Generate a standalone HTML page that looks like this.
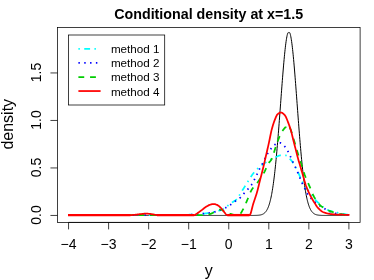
<!DOCTYPE html>
<html><head><meta charset="utf-8"><title>Conditional density</title>
<style>
html,body{margin:0;padding:0;background:#fff;}
svg{display:block;will-change:transform;}
text{font-family:"Liberation Sans",sans-serif;fill:#000;}
</style></head><body>
<svg width="374" height="280" viewBox="0 0 374 280">
<rect width="374" height="280" fill="#fff"/>
<polyline fill="none" stroke="#000" stroke-width="1.0" stroke-linejoin="round" points="68.60,215.45 68.85,215.45 69.10,215.45 69.35,215.45 69.60,215.45 69.85,215.45 70.10,215.45 70.35,215.45 70.60,215.45 70.85,215.45 71.10,215.45 71.35,215.45 71.60,215.45 71.85,215.45 72.10,215.45 72.35,215.45 72.60,215.45 72.85,215.45 73.10,215.45 73.35,215.45 73.60,215.45 73.85,215.45 74.10,215.45 74.35,215.45 74.60,215.45 74.85,215.45 75.10,215.45 75.35,215.45 75.60,215.45 75.85,215.45 76.10,215.45 76.35,215.45 76.60,215.45 76.85,215.45 77.10,215.45 77.35,215.45 77.60,215.45 77.85,215.45 78.10,215.45 78.35,215.45 78.60,215.45 78.85,215.45 79.10,215.45 79.35,215.45 79.60,215.45 79.85,215.45 80.10,215.45 80.35,215.45 80.60,215.45 80.85,215.45 81.10,215.45 81.35,215.45 81.60,215.45 81.85,215.45 82.10,215.45 82.35,215.45 82.60,215.45 82.85,215.45 83.10,215.45 83.35,215.45 83.60,215.45 83.85,215.45 84.10,215.45 84.35,215.45 84.60,215.45 84.85,215.45 85.10,215.45 85.35,215.45 85.60,215.45 85.85,215.45 86.10,215.45 86.35,215.45 86.60,215.45 86.85,215.45 87.10,215.45 87.35,215.45 87.60,215.45 87.85,215.45 88.10,215.45 88.35,215.45 88.60,215.45 88.85,215.45 89.10,215.45 89.35,215.45 89.60,215.45 89.85,215.45 90.10,215.45 90.35,215.45 90.60,215.45 90.85,215.45 91.10,215.45 91.35,215.45 91.60,215.45 91.85,215.45 92.10,215.45 92.35,215.45 92.60,215.45 92.85,215.45 93.10,215.45 93.35,215.45 93.60,215.45 93.85,215.45 94.10,215.45 94.35,215.45 94.60,215.45 94.85,215.45 95.10,215.45 95.35,215.45 95.60,215.45 95.85,215.45 96.10,215.45 96.35,215.45 96.60,215.45 96.85,215.45 97.10,215.45 97.35,215.45 97.60,215.45 97.85,215.45 98.10,215.45 98.35,215.45 98.60,215.45 98.85,215.45 99.10,215.45 99.35,215.45 99.60,215.45 99.85,215.45 100.10,215.45 100.35,215.45 100.60,215.45 100.85,215.45 101.10,215.45 101.35,215.45 101.60,215.45 101.85,215.45 102.10,215.45 102.35,215.45 102.60,215.45 102.85,215.45 103.10,215.45 103.35,215.45 103.60,215.45 103.85,215.45 104.10,215.45 104.35,215.45 104.60,215.45 104.85,215.45 105.10,215.45 105.35,215.45 105.60,215.45 105.85,215.45 106.10,215.45 106.35,215.45 106.60,215.45 106.85,215.45 107.10,215.45 107.35,215.45 107.60,215.45 107.85,215.45 108.10,215.45 108.35,215.45 108.60,215.45 108.85,215.45 109.10,215.45 109.35,215.45 109.60,215.45 109.85,215.45 110.10,215.45 110.35,215.45 110.60,215.45 110.85,215.45 111.10,215.45 111.35,215.45 111.60,215.45 111.85,215.45 112.10,215.45 112.35,215.45 112.60,215.45 112.85,215.45 113.10,215.45 113.35,215.45 113.60,215.45 113.85,215.45 114.10,215.45 114.35,215.45 114.60,215.45 114.85,215.45 115.10,215.45 115.35,215.45 115.60,215.45 115.85,215.45 116.10,215.45 116.35,215.45 116.60,215.45 116.85,215.45 117.10,215.45 117.35,215.45 117.60,215.45 117.85,215.45 118.10,215.45 118.35,215.45 118.60,215.45 118.85,215.45 119.10,215.45 119.35,215.45 119.60,215.45 119.85,215.45 120.10,215.45 120.35,215.45 120.60,215.45 120.85,215.45 121.10,215.45 121.35,215.45 121.60,215.45 121.85,215.45 122.10,215.45 122.35,215.45 122.60,215.45 122.85,215.45 123.10,215.45 123.35,215.45 123.60,215.45 123.85,215.45 124.10,215.45 124.35,215.45 124.60,215.45 124.85,215.45 125.10,215.45 125.35,215.45 125.60,215.45 125.85,215.45 126.10,215.45 126.35,215.45 126.60,215.45 126.85,215.45 127.10,215.45 127.35,215.45 127.60,215.45 127.85,215.45 128.10,215.45 128.35,215.45 128.60,215.45 128.85,215.45 129.10,215.45 129.35,215.45 129.60,215.45 129.85,215.45 130.10,215.45 130.35,215.45 130.60,215.45 130.85,215.45 131.10,215.45 131.35,215.45 131.60,215.45 131.85,215.45 132.10,215.45 132.35,215.45 132.60,215.45 132.85,215.45 133.10,215.45 133.35,215.45 133.60,215.45 133.85,215.45 134.10,215.45 134.35,215.45 134.60,215.45 134.85,215.45 135.10,215.45 135.35,215.45 135.60,215.45 135.85,215.45 136.10,215.45 136.35,215.45 136.60,215.45 136.85,215.45 137.10,215.45 137.35,215.45 137.60,215.45 137.85,215.45 138.10,215.45 138.35,215.45 138.60,215.45 138.85,215.45 139.10,215.45 139.35,215.45 139.60,215.45 139.85,215.45 140.10,215.45 140.35,215.45 140.60,215.45 140.85,215.45 141.10,215.45 141.35,215.45 141.60,215.45 141.85,215.45 142.10,215.45 142.35,215.45 142.60,215.45 142.85,215.45 143.10,215.45 143.35,215.45 143.60,215.45 143.85,215.45 144.10,215.45 144.35,215.45 144.60,215.45 144.85,215.45 145.10,215.45 145.35,215.45 145.60,215.45 145.85,215.45 146.10,215.45 146.35,215.45 146.60,215.45 146.85,215.45 147.10,215.45 147.35,215.45 147.60,215.45 147.85,215.45 148.10,215.45 148.35,215.45 148.60,215.45 148.85,215.45 149.10,215.45 149.35,215.45 149.60,215.45 149.85,215.45 150.10,215.45 150.35,215.45 150.60,215.45 150.85,215.45 151.10,215.45 151.35,215.45 151.60,215.45 151.85,215.45 152.10,215.45 152.35,215.45 152.60,215.45 152.85,215.45 153.10,215.45 153.35,215.45 153.60,215.45 153.85,215.45 154.10,215.45 154.35,215.45 154.60,215.45 154.85,215.45 155.10,215.45 155.35,215.45 155.60,215.45 155.85,215.45 156.10,215.45 156.35,215.45 156.60,215.45 156.85,215.45 157.10,215.45 157.35,215.45 157.60,215.45 157.85,215.45 158.10,215.45 158.35,215.45 158.60,215.45 158.85,215.45 159.10,215.45 159.35,215.45 159.60,215.45 159.85,215.45 160.10,215.45 160.35,215.45 160.60,215.45 160.85,215.45 161.10,215.45 161.35,215.45 161.60,215.45 161.85,215.45 162.10,215.45 162.35,215.45 162.60,215.45 162.85,215.45 163.10,215.45 163.35,215.45 163.60,215.45 163.85,215.45 164.10,215.45 164.35,215.45 164.60,215.45 164.85,215.45 165.10,215.45 165.35,215.45 165.60,215.45 165.85,215.45 166.10,215.45 166.35,215.45 166.60,215.45 166.85,215.45 167.10,215.45 167.35,215.45 167.60,215.45 167.85,215.45 168.10,215.45 168.35,215.45 168.60,215.45 168.85,215.45 169.10,215.45 169.35,215.45 169.60,215.45 169.85,215.45 170.10,215.45 170.35,215.45 170.60,215.45 170.85,215.45 171.10,215.45 171.35,215.45 171.60,215.45 171.85,215.45 172.10,215.45 172.35,215.45 172.60,215.45 172.85,215.45 173.10,215.45 173.35,215.45 173.60,215.45 173.85,215.45 174.10,215.45 174.35,215.45 174.60,215.45 174.85,215.45 175.10,215.45 175.35,215.45 175.60,215.45 175.85,215.45 176.10,215.45 176.35,215.45 176.60,215.45 176.85,215.45 177.10,215.45 177.35,215.45 177.60,215.45 177.85,215.45 178.10,215.45 178.35,215.45 178.60,215.45 178.85,215.45 179.10,215.45 179.35,215.45 179.60,215.45 179.85,215.45 180.10,215.45 180.35,215.45 180.60,215.45 180.85,215.45 181.10,215.45 181.35,215.45 181.60,215.45 181.85,215.45 182.10,215.45 182.35,215.45 182.60,215.45 182.85,215.45 183.10,215.45 183.35,215.45 183.60,215.45 183.85,215.45 184.10,215.45 184.35,215.45 184.60,215.45 184.85,215.45 185.10,215.45 185.35,215.45 185.60,215.45 185.85,215.45 186.10,215.45 186.35,215.45 186.60,215.45 186.85,215.45 187.10,215.45 187.35,215.45 187.60,215.45 187.85,215.45 188.10,215.45 188.35,215.45 188.60,215.45 188.85,215.45 189.10,215.45 189.35,215.45 189.60,215.45 189.85,215.45 190.10,215.45 190.35,215.45 190.60,215.45 190.85,215.45 191.10,215.45 191.35,215.45 191.60,215.45 191.85,215.45 192.10,215.45 192.35,215.45 192.60,215.45 192.85,215.45 193.10,215.45 193.35,215.45 193.60,215.45 193.85,215.45 194.10,215.45 194.35,215.45 194.60,215.45 194.85,215.45 195.10,215.45 195.35,215.45 195.60,215.45 195.85,215.45 196.10,215.45 196.35,215.45 196.60,215.45 196.85,215.45 197.10,215.45 197.35,215.45 197.60,215.45 197.85,215.45 198.10,215.45 198.35,215.45 198.60,215.45 198.85,215.45 199.10,215.45 199.35,215.45 199.60,215.45 199.85,215.45 200.10,215.45 200.35,215.45 200.60,215.45 200.85,215.45 201.10,215.45 201.35,215.45 201.60,215.45 201.85,215.45 202.10,215.45 202.35,215.45 202.60,215.45 202.85,215.45 203.10,215.45 203.35,215.45 203.60,215.45 203.85,215.45 204.10,215.45 204.35,215.45 204.60,215.45 204.85,215.45 205.10,215.45 205.35,215.45 205.60,215.45 205.85,215.45 206.10,215.45 206.35,215.45 206.60,215.45 206.85,215.45 207.10,215.45 207.35,215.45 207.60,215.45 207.85,215.45 208.10,215.45 208.35,215.45 208.60,215.45 208.85,215.45 209.10,215.45 209.35,215.45 209.60,215.45 209.85,215.45 210.10,215.45 210.35,215.45 210.60,215.45 210.85,215.45 211.10,215.45 211.35,215.45 211.60,215.45 211.85,215.45 212.10,215.45 212.35,215.45 212.60,215.45 212.85,215.45 213.10,215.45 213.35,215.45 213.60,215.45 213.85,215.45 214.10,215.45 214.35,215.45 214.60,215.45 214.85,215.45 215.10,215.45 215.35,215.45 215.60,215.45 215.85,215.45 216.10,215.45 216.35,215.45 216.60,215.45 216.85,215.45 217.10,215.45 217.35,215.45 217.60,215.45 217.85,215.45 218.10,215.45 218.35,215.45 218.60,215.45 218.85,215.45 219.10,215.45 219.35,215.45 219.60,215.45 219.85,215.45 220.10,215.45 220.35,215.45 220.60,215.45 220.85,215.45 221.10,215.45 221.35,215.45 221.60,215.45 221.85,215.45 222.10,215.45 222.35,215.45 222.60,215.45 222.85,215.45 223.10,215.45 223.35,215.45 223.60,215.45 223.85,215.45 224.10,215.45 224.35,215.45 224.60,215.45 224.85,215.45 225.10,215.45 225.35,215.45 225.60,215.45 225.85,215.45 226.10,215.45 226.35,215.45 226.60,215.45 226.85,215.45 227.10,215.45 227.35,215.45 227.60,215.45 227.85,215.45 228.10,215.45 228.35,215.45 228.60,215.45 228.85,215.45 229.10,215.45 229.35,215.45 229.60,215.45 229.85,215.45 230.10,215.45 230.35,215.45 230.60,215.45 230.85,215.45 231.10,215.45 231.35,215.45 231.60,215.45 231.85,215.45 232.10,215.45 232.35,215.45 232.60,215.45 232.85,215.45 233.10,215.45 233.35,215.45 233.60,215.45 233.85,215.45 234.10,215.45 234.35,215.45 234.60,215.45 234.85,215.45 235.10,215.45 235.35,215.45 235.60,215.45 235.85,215.45 236.10,215.45 236.35,215.45 236.60,215.45 236.85,215.45 237.10,215.45 237.35,215.45 237.60,215.45 237.85,215.45 238.10,215.45 238.35,215.45 238.60,215.45 238.85,215.45 239.10,215.45 239.35,215.45 239.60,215.45 239.85,215.45 240.10,215.45 240.35,215.45 240.60,215.45 240.85,215.45 241.10,215.45 241.35,215.45 241.60,215.45 241.85,215.45 242.10,215.45 242.35,215.45 242.60,215.45 242.85,215.45 243.10,215.45 243.35,215.45 243.60,215.45 243.85,215.45 244.10,215.45 244.35,215.45 244.60,215.45 244.85,215.45 245.10,215.45 245.35,215.45 245.60,215.45 245.85,215.45 246.10,215.45 246.35,215.45 246.60,215.45 246.85,215.45 247.10,215.45 247.35,215.45 247.60,215.45 247.85,215.45 248.10,215.45 248.35,215.45 248.60,215.45 248.85,215.45 249.10,215.45 249.35,215.45 249.60,215.45 249.85,215.45 250.10,215.45 250.35,215.45 250.60,215.45 250.85,215.45 251.10,215.44 251.35,215.44 251.60,215.44 251.85,215.44 252.10,215.44 252.35,215.44 252.60,215.44 252.85,215.44 253.10,215.43 253.35,215.43 253.60,215.43 253.85,215.43 254.10,215.42 254.35,215.42 254.60,215.42 254.85,215.41 255.10,215.41 255.35,215.40 255.60,215.39 255.85,215.39 256.10,215.38 256.35,215.37 256.60,215.36 256.85,215.35 257.10,215.33 257.35,215.32 257.60,215.30 257.85,215.29 258.10,215.27 258.35,215.25 258.60,215.22 258.85,215.19 259.10,215.17 259.35,215.13 259.60,215.10 259.85,215.06 260.10,215.01 260.35,214.96 260.60,214.91 260.85,214.85 261.10,214.79 261.35,214.72 261.60,214.64 261.85,214.56 262.10,214.47 262.35,214.37 262.60,214.26 262.85,214.14 263.10,214.01 263.35,213.86 263.60,213.71 263.85,213.54 264.10,213.36 264.35,213.16 264.60,212.95 264.85,212.72 265.10,212.47 265.35,212.20 265.60,211.91 265.85,211.60 266.10,211.27 266.35,210.91 266.60,210.52 266.85,210.10 267.10,209.66 267.35,209.18 267.60,208.67 267.85,208.13 268.10,207.55 268.35,206.93 268.60,206.27 268.85,205.57 269.10,204.83 269.35,204.04 269.60,203.20 269.85,202.31 270.10,201.37 270.35,200.38 270.60,199.34 270.85,198.23 271.10,197.07 271.35,195.85 271.60,194.56 271.85,193.21 272.10,191.80 272.35,190.31 272.60,188.76 272.85,187.14 273.10,185.45 273.35,183.69 273.60,181.85 273.85,179.94 274.10,177.96 274.35,175.90 274.60,173.77 274.85,171.56 275.10,169.27 275.35,166.91 275.60,164.48 275.85,161.98 276.10,159.40 276.35,156.75 276.60,154.04 276.85,151.26 277.10,148.41 277.35,145.50 277.60,142.53 277.85,139.50 278.10,136.42 278.35,133.29 278.60,130.12 278.85,126.90 279.10,123.64 279.35,120.36 279.60,117.04 279.85,113.70 280.10,110.35 280.35,106.98 280.60,103.61 280.85,100.24 281.10,96.87 281.35,93.52 281.60,90.19 281.85,86.88 282.10,83.61 282.35,80.38 282.60,77.20 282.85,74.07 283.10,71.00 283.35,68.00 283.60,65.07 283.85,62.23 284.10,59.47 284.35,56.81 284.60,54.26 284.85,51.81 285.10,49.47 285.35,47.26 285.60,45.17 285.85,43.21 286.10,41.39 286.35,39.72 286.60,38.18 286.85,36.80 287.10,35.57 287.35,34.50 287.60,33.59 287.85,32.84 288.10,32.60 288.35,32.60 288.60,32.60 288.85,32.60 289.10,32.60 289.35,32.60 289.60,32.60 289.85,32.84 290.10,33.59 290.35,34.50 290.60,35.57 290.85,36.80 291.10,38.18 291.35,39.72 291.60,41.39 291.85,43.21 292.10,45.17 292.35,47.26 292.60,49.47 292.85,51.81 293.10,54.26 293.35,56.81 293.60,59.47 293.85,62.23 294.10,65.07 294.35,68.00 294.60,71.00 294.85,74.07 295.10,77.20 295.35,80.38 295.60,83.61 295.85,86.88 296.10,90.19 296.35,93.52 296.60,96.87 296.85,100.24 297.10,103.61 297.35,106.98 297.60,110.35 297.85,113.70 298.10,117.04 298.35,120.36 298.60,123.64 298.85,126.90 299.10,130.12 299.35,133.29 299.60,136.42 299.85,139.50 300.10,142.53 300.35,145.50 300.60,148.41 300.85,151.26 301.10,154.04 301.35,156.75 301.60,159.40 301.85,161.98 302.10,164.48 302.35,166.91 302.60,169.27 302.85,171.56 303.10,173.77 303.35,175.90 303.60,177.96 303.85,179.94 304.10,181.85 304.35,183.69 304.60,185.45 304.85,187.14 305.10,188.76 305.35,190.31 305.60,191.80 305.85,193.21 306.10,194.56 306.35,195.85 306.60,197.07 306.85,198.23 307.10,199.34 307.35,200.38 307.60,201.37 307.85,202.31 308.10,203.20 308.35,204.04 308.60,204.83 308.85,205.57 309.10,206.27 309.35,206.93 309.60,207.55 309.85,208.13 310.10,208.67 310.35,209.18 310.60,209.66 310.85,210.10 311.10,210.52 311.35,210.91 311.60,211.27 311.85,211.60 312.10,211.91 312.35,212.20 312.60,212.47 312.85,212.72 313.10,212.95 313.35,213.16 313.60,213.36 313.85,213.54 314.10,213.71 314.35,213.86 314.60,214.01 314.85,214.14 315.10,214.26 315.35,214.37 315.60,214.47 315.85,214.56 316.10,214.64 316.35,214.72 316.60,214.79 316.85,214.85 317.10,214.91 317.35,214.96 317.60,215.01 317.85,215.06 318.10,215.10 318.35,215.13 318.60,215.17 318.85,215.19 319.10,215.22 319.35,215.25 319.60,215.27 319.85,215.29 320.10,215.30 320.35,215.32 320.60,215.33 320.85,215.35 321.10,215.36 321.35,215.37 321.60,215.38 321.85,215.39 322.10,215.39 322.35,215.40 322.60,215.41 322.85,215.41 323.10,215.42 323.35,215.42 323.60,215.42 323.85,215.43 324.10,215.43 324.35,215.43 324.60,215.43 324.85,215.44 325.10,215.44 325.35,215.44 325.60,215.44 325.85,215.44 326.10,215.44 326.35,215.44 326.60,215.44 326.85,215.45 327.10,215.45 327.35,215.45 327.60,215.45 327.85,215.45 328.10,215.45 328.35,215.45 328.60,215.45 328.85,215.45 329.10,215.45 329.35,215.45 329.60,215.45 329.85,215.45 330.10,215.45 330.35,215.45 330.60,215.45 330.85,215.45 331.10,215.45 331.35,215.45 331.60,215.45 331.85,215.45 332.10,215.45 332.35,215.45 332.60,215.45 332.85,215.45 333.10,215.45 333.35,215.45 333.60,215.45 333.85,215.45 334.10,215.45 334.35,215.45 334.60,215.45 334.85,215.45 335.10,215.45 335.35,215.45 335.60,215.45 335.85,215.45 336.10,215.45 336.35,215.45 336.60,215.45 336.85,215.45 337.10,215.45 337.35,215.45 337.60,215.45 337.85,215.45 338.10,215.45 338.35,215.45 338.60,215.45 338.85,215.45 339.10,215.45 339.35,215.45 339.60,215.45 339.85,215.45 340.10,215.45 340.35,215.45 340.60,215.45 340.85,215.45 341.10,215.45 341.35,215.45 341.60,215.45 341.85,215.45 342.10,215.45 342.35,215.45 342.60,215.45 342.85,215.45 343.10,215.45 343.35,215.45 343.60,215.45 343.85,215.45 344.10,215.45 344.35,215.45 344.60,215.45 344.85,215.45 345.10,215.45 345.35,215.45 345.60,215.45 345.85,215.45 346.10,215.45 346.35,215.45 346.60,215.45 346.85,215.45 347.10,215.45 347.35,215.45 347.60,215.45 347.85,215.45 348.10,215.45 348.35,215.45 348.60,215.45 348.85,215.45"/>
<polyline fill="none" stroke="#00FFFF" stroke-width="1.75" stroke-linejoin="round" stroke-dasharray="1.458 4.374 5.832 4.374" stroke-dashoffset="0" points="68.60,215.20 69.10,215.20 69.60,215.20 70.10,215.20 70.60,215.20 71.10,215.20 71.60,215.20 72.10,215.20 72.60,215.20 73.10,215.20 73.60,215.20 74.10,215.20 74.60,215.20 75.10,215.20 75.60,215.20 76.10,215.20 76.60,215.20 77.10,215.20 77.60,215.20 78.10,215.20 78.60,215.20 79.10,215.20 79.60,215.20 80.10,215.20 80.60,215.20 81.10,215.20 81.60,215.20 82.10,215.20 82.60,215.20 83.10,215.20 83.60,215.20 84.10,215.20 84.60,215.20 85.10,215.20 85.60,215.20 86.10,215.20 86.60,215.20 87.10,215.20 87.60,215.20 88.10,215.20 88.60,215.20 89.10,215.20 89.60,215.20 90.10,215.20 90.60,215.20 91.10,215.20 91.60,215.20 92.10,215.20 92.60,215.20 93.10,215.20 93.60,215.20 94.10,215.20 94.60,215.20 95.10,215.20 95.60,215.20 96.10,215.20 96.60,215.20 97.10,215.20 97.60,215.20 98.10,215.20 98.60,215.20 99.10,215.20 99.60,215.20 100.10,215.20 100.60,215.20 101.10,215.20 101.60,215.20 102.10,215.20 102.60,215.20 103.10,215.20 103.60,215.20 104.10,215.20 104.60,215.20 105.10,215.20 105.60,215.20 106.10,215.20 106.60,215.20 107.10,215.20 107.60,215.20 108.10,215.20 108.60,215.20 109.10,215.20 109.60,215.20 110.10,215.20 110.60,215.20 111.10,215.20 111.60,215.20 112.10,215.20 112.60,215.20 113.10,215.20 113.60,215.20 114.10,215.20 114.60,215.20 115.10,215.20 115.60,215.20 116.10,215.20 116.60,215.20 117.10,215.20 117.60,215.20 118.10,215.20 118.60,215.20 119.10,215.20 119.60,215.20 120.10,215.20 120.60,215.20 121.10,215.20 121.60,215.20 122.10,215.20 122.60,215.20 123.10,215.20 123.60,215.20 124.10,215.20 124.60,215.20 125.10,215.20 125.60,215.20 126.10,215.20 126.60,215.20 127.10,215.20 127.60,215.20 128.10,215.20 128.60,215.20 129.10,215.20 129.60,215.20 130.10,215.20 130.60,215.20 131.10,215.20 131.60,215.20 132.10,215.20 132.60,215.20 133.10,215.20 133.60,215.20 134.10,215.20 134.60,215.20 135.10,215.20 135.60,215.20 136.10,215.20 136.60,215.20 137.10,215.20 137.60,215.20 138.10,215.20 138.60,215.20 139.10,215.20 139.60,215.20 140.10,215.20 140.60,215.20 141.10,215.20 141.60,215.20 142.10,215.20 142.60,215.20 143.10,215.20 143.60,215.20 144.10,215.20 144.60,215.20 145.10,215.20 145.60,215.20 146.10,215.20 146.60,215.20 147.10,215.20 147.60,215.20 148.10,215.20 148.60,215.20 149.10,215.20 149.60,215.20 150.10,215.20 150.60,215.20 151.10,215.20 151.60,215.20 152.10,215.20 152.60,215.20 153.10,215.20 153.60,215.20 154.10,215.20 154.60,215.20 155.10,215.20 155.60,215.20 156.10,215.20 156.60,215.20 157.10,215.20 157.60,215.20 158.10,215.20 158.60,215.20 159.10,215.20 159.60,215.20 160.10,215.20 160.60,215.20 161.10,215.20 161.60,215.20 162.10,215.20 162.60,215.20 163.10,215.20 163.60,215.20 164.10,215.20 164.60,215.20 165.10,215.20 165.60,215.20 166.10,215.20 166.60,215.20 167.10,215.20 167.60,215.20 168.10,215.20 168.60,215.20 169.10,215.20 169.60,215.20 170.10,215.20 170.60,215.20 171.10,215.20 171.60,215.20 172.10,215.20 172.60,215.20 173.10,215.20 173.60,215.20 174.10,215.20 174.60,215.20 175.10,215.20 175.60,215.20 176.10,215.20 176.60,215.20 177.10,215.20 177.60,215.20 178.10,215.20 178.60,215.20 179.10,215.19 179.60,215.17 180.10,215.15 180.60,215.13 181.10,215.11 181.60,215.08 182.10,215.05 182.60,215.03 183.10,215.00 183.60,214.97 184.10,214.94 184.60,214.92 185.10,214.90 185.60,214.87 186.10,214.85 186.60,214.83 187.10,214.81 187.60,214.79 188.10,214.77 188.60,214.75 189.10,214.73 189.60,214.71 190.10,214.69 190.60,214.67 191.10,214.65 191.60,214.62 192.10,214.60 192.60,214.58 193.10,214.56 193.60,214.54 194.10,214.51 194.60,214.49 195.10,214.46 195.60,214.44 196.10,214.41 196.60,214.38 197.10,214.34 197.60,214.30 198.10,214.26 198.60,214.21 199.10,214.16 199.60,214.11 200.10,214.05 200.60,213.99 201.10,213.93 201.60,213.87 202.10,213.81 202.60,213.75 203.10,213.69 203.60,213.63 204.10,213.58 204.60,213.52 205.10,213.46 205.60,213.41 206.10,213.35 206.60,213.29 207.10,213.23 207.60,213.17 208.10,213.10 208.60,213.03 209.10,212.96 209.60,212.88 210.10,212.80 210.60,212.72 211.10,212.63 211.60,212.54 212.10,212.45 212.60,212.35 213.10,212.25 213.60,212.15 214.10,212.04 214.60,211.92 215.10,211.80 215.60,211.67 216.10,211.54 216.60,211.39 217.10,211.24 217.60,211.08 218.10,210.92 218.60,210.75 219.10,210.58 219.60,210.40 220.10,210.21 220.60,210.02 221.10,209.83 221.60,209.64 222.10,209.44 222.60,209.22 223.10,209.00 223.60,208.76 224.10,208.51 224.60,208.23 225.10,207.94 225.60,207.58 226.10,207.17 226.60,206.73 227.10,206.29 227.60,205.86 228.10,205.47 228.60,205.09 229.10,204.71 229.60,204.35 230.10,203.98 230.60,203.62 231.10,203.27 231.60,202.91 232.10,202.55 232.60,202.19 233.10,201.83 233.60,201.49 234.10,201.16 234.60,200.85 235.10,200.53 235.60,200.19 236.10,199.81 236.60,199.38 237.10,198.89 237.60,198.26 238.10,197.50 238.60,196.64 239.10,195.75 239.60,194.87 240.10,194.04 240.60,193.24 241.10,192.45 241.60,191.65 242.10,190.85 242.60,190.06 243.10,189.26 243.60,188.46 244.10,187.66 244.60,186.85 245.10,186.05 245.60,185.24 246.10,184.43 246.60,183.63 247.10,182.83 247.60,182.03 248.10,181.24 248.60,180.44 249.10,179.63 249.60,178.82 250.10,178.02 250.60,177.22 251.10,176.45 251.60,175.71 252.10,175.00 252.60,174.34 253.10,173.70 253.60,173.07 254.10,172.46 254.60,171.87 255.10,171.29 255.60,170.73 256.10,170.19 256.60,169.67 257.10,169.17 257.60,168.69 258.10,168.22 258.60,167.78 259.10,167.34 259.60,166.91 260.10,166.50 260.60,166.09 261.10,165.70 261.60,165.31 262.10,164.93 262.60,164.57 263.10,164.21 263.60,163.86 264.10,163.52 264.60,163.19 265.10,162.86 265.60,162.55 266.10,162.23 266.60,161.92 267.10,161.61 267.60,161.31 268.10,161.01 268.60,160.72 269.10,160.43 269.60,160.15 270.10,159.87 270.60,159.60 271.10,159.33 271.60,159.07 272.10,158.81 272.60,158.56 273.10,158.31 273.60,158.07 274.10,157.84 274.60,157.61 275.10,157.38 275.60,157.17 276.10,156.96 276.60,156.73 277.10,156.50 277.60,156.26 278.10,156.03 278.60,155.82 279.10,155.64 279.60,155.51 280.10,155.42 280.60,155.40 281.10,155.40 281.60,155.40 282.10,155.41 282.60,155.41 283.10,155.42 283.60,155.43 284.10,155.44 284.60,155.45 285.10,155.47 285.60,155.48 286.10,155.50 286.60,155.61 287.10,155.86 287.60,156.25 288.10,156.73 288.60,157.29 289.10,157.88 289.60,158.48 290.10,159.07 290.60,159.62 291.10,160.19 291.60,160.80 292.10,161.45 292.60,162.15 293.10,162.91 293.60,163.71 294.10,164.55 294.60,165.43 295.10,166.35 295.60,167.31 296.10,168.29 296.60,169.29 297.10,170.32 297.60,171.36 298.10,172.42 298.60,173.49 299.10,174.56 299.60,175.64 300.10,176.83 300.60,178.09 301.10,179.36 301.60,180.59 302.10,181.72 302.60,182.68 303.10,183.54 303.60,184.35 304.10,185.11 304.60,185.84 305.10,186.53 305.60,187.19 306.10,187.84 306.60,188.47 307.10,189.09 307.60,189.71 308.10,190.34 308.60,190.98 309.10,191.63 309.60,192.30 310.10,192.98 310.60,193.66 311.10,194.34 311.60,195.02 312.10,195.69 312.60,196.36 313.10,197.02 313.60,197.67 314.10,198.30 314.60,198.91 315.10,199.50 315.60,200.06 316.10,200.60 316.60,201.10 317.10,201.58 317.60,202.06 318.10,202.54 318.60,203.01 319.10,203.48 319.60,203.95 320.10,204.40 320.60,204.85 321.10,205.29 321.60,205.73 322.10,206.15 322.60,206.56 323.10,206.96 323.60,207.35 324.10,207.72 324.60,208.08 325.10,208.43 325.60,208.76 326.10,209.07 326.60,209.36 327.10,209.64 327.60,209.90 328.10,210.13 328.60,210.34 329.10,210.54 329.60,210.71 330.10,210.88 330.60,211.04 331.10,211.19 331.60,211.33 332.10,211.46 332.60,211.59 333.10,211.71 333.60,211.83 334.10,211.94 334.60,212.05 335.10,212.16 335.60,212.27 336.10,212.37 336.60,212.48 337.10,212.58 337.60,212.69 338.10,212.80 338.60,212.91 339.10,213.02 339.60,213.13 340.10,213.23 340.60,213.34 341.10,213.44 341.60,213.55 342.10,213.65 342.60,213.75 343.10,213.85 343.60,213.95 344.10,214.04 344.60,214.14 345.10,214.23 345.60,214.33 346.10,214.42 346.60,214.51 347.10,214.60 347.60,214.68 348.10,214.77 348.60,214.85"/>
<polyline fill="none" stroke="#0000FF" stroke-width="1.75" stroke-linejoin="round" stroke-dasharray="1.458 4.374" stroke-dashoffset="0" points="68.60,215.20 69.10,215.20 69.60,215.20 70.10,215.20 70.60,215.20 71.10,215.20 71.60,215.20 72.10,215.20 72.60,215.20 73.10,215.20 73.60,215.20 74.10,215.20 74.60,215.20 75.10,215.20 75.60,215.20 76.10,215.20 76.60,215.20 77.10,215.20 77.60,215.20 78.10,215.20 78.60,215.20 79.10,215.20 79.60,215.20 80.10,215.20 80.60,215.20 81.10,215.20 81.60,215.20 82.10,215.20 82.60,215.20 83.10,215.20 83.60,215.20 84.10,215.20 84.60,215.20 85.10,215.20 85.60,215.20 86.10,215.20 86.60,215.20 87.10,215.20 87.60,215.20 88.10,215.20 88.60,215.20 89.10,215.20 89.60,215.20 90.10,215.20 90.60,215.20 91.10,215.20 91.60,215.20 92.10,215.20 92.60,215.20 93.10,215.20 93.60,215.20 94.10,215.20 94.60,215.20 95.10,215.20 95.60,215.20 96.10,215.20 96.60,215.20 97.10,215.20 97.60,215.20 98.10,215.20 98.60,215.20 99.10,215.20 99.60,215.20 100.10,215.20 100.60,215.20 101.10,215.20 101.60,215.20 102.10,215.20 102.60,215.20 103.10,215.20 103.60,215.20 104.10,215.20 104.60,215.20 105.10,215.20 105.60,215.20 106.10,215.20 106.60,215.20 107.10,215.20 107.60,215.20 108.10,215.20 108.60,215.20 109.10,215.20 109.60,215.20 110.10,215.20 110.60,215.20 111.10,215.20 111.60,215.20 112.10,215.20 112.60,215.20 113.10,215.20 113.60,215.20 114.10,215.20 114.60,215.20 115.10,215.20 115.60,215.20 116.10,215.20 116.60,215.20 117.10,215.20 117.60,215.20 118.10,215.20 118.60,215.20 119.10,215.20 119.60,215.20 120.10,215.20 120.60,215.20 121.10,215.20 121.60,215.20 122.10,215.20 122.60,215.20 123.10,215.20 123.60,215.20 124.10,215.20 124.60,215.20 125.10,215.20 125.60,215.20 126.10,215.20 126.60,215.20 127.10,215.20 127.60,215.20 128.10,215.20 128.60,215.20 129.10,215.20 129.60,215.20 130.10,215.20 130.60,215.20 131.10,215.20 131.60,215.20 132.10,215.20 132.60,215.20 133.10,215.20 133.60,215.20 134.10,215.20 134.60,215.20 135.10,215.20 135.60,215.20 136.10,215.20 136.60,215.20 137.10,215.20 137.60,215.20 138.10,215.20 138.60,215.20 139.10,215.20 139.60,215.20 140.10,215.20 140.60,215.20 141.10,215.20 141.60,215.20 142.10,215.20 142.60,215.20 143.10,215.20 143.60,215.20 144.10,215.20 144.60,215.20 145.10,215.20 145.60,215.20 146.10,215.20 146.60,215.20 147.10,215.20 147.60,215.20 148.10,215.20 148.60,215.20 149.10,215.20 149.60,215.20 150.10,215.20 150.60,215.20 151.10,215.20 151.60,215.20 152.10,215.20 152.60,215.20 153.10,215.20 153.60,215.20 154.10,215.20 154.60,215.20 155.10,215.20 155.60,215.20 156.10,215.20 156.60,215.20 157.10,215.20 157.60,215.20 158.10,215.20 158.60,215.20 159.10,215.20 159.60,215.20 160.10,215.20 160.60,215.20 161.10,215.20 161.60,215.20 162.10,215.20 162.60,215.20 163.10,215.20 163.60,215.20 164.10,215.20 164.60,215.20 165.10,215.20 165.60,215.20 166.10,215.20 166.60,215.20 167.10,215.20 167.60,215.20 168.10,215.20 168.60,215.20 169.10,215.20 169.60,215.20 170.10,215.20 170.60,215.20 171.10,215.20 171.60,215.20 172.10,215.20 172.60,215.20 173.10,215.20 173.60,215.20 174.10,215.20 174.60,215.20 175.10,215.20 175.60,215.20 176.10,215.20 176.60,215.20 177.10,215.20 177.60,215.20 178.10,215.20 178.60,215.20 179.10,215.19 179.60,215.17 180.10,215.15 180.60,215.13 181.10,215.11 181.60,215.08 182.10,215.05 182.60,215.03 183.10,215.00 183.60,214.97 184.10,214.94 184.60,214.92 185.10,214.90 185.60,214.87 186.10,214.85 186.60,214.83 187.10,214.81 187.60,214.79 188.10,214.77 188.60,214.75 189.10,214.73 189.60,214.71 190.10,214.69 190.60,214.67 191.10,214.65 191.60,214.62 192.10,214.60 192.60,214.58 193.10,214.56 193.60,214.54 194.10,214.51 194.60,214.49 195.10,214.46 195.60,214.44 196.10,214.41 196.60,214.38 197.10,214.34 197.60,214.30 198.10,214.26 198.60,214.21 199.10,214.16 199.60,214.11 200.10,214.05 200.60,213.99 201.10,213.93 201.60,213.87 202.10,213.81 202.60,213.75 203.10,213.69 203.60,213.63 204.10,213.58 204.60,213.52 205.10,213.46 205.60,213.41 206.10,213.35 206.60,213.29 207.10,213.23 207.60,213.17 208.10,213.10 208.60,213.03 209.10,212.96 209.60,212.88 210.10,212.80 210.60,212.72 211.10,212.63 211.60,212.54 212.10,212.45 212.60,212.35 213.10,212.25 213.60,212.15 214.10,212.04 214.60,211.92 215.10,211.80 215.60,211.67 216.10,211.54 216.60,211.39 217.10,211.24 217.60,211.08 218.10,210.91 218.60,210.74 219.10,210.57 219.60,210.39 220.10,210.21 220.60,210.03 221.10,209.83 221.60,209.64 222.10,209.43 222.60,209.22 223.10,209.00 223.60,208.77 224.10,208.54 224.60,208.30 225.10,208.05 225.60,207.80 226.10,207.53 226.60,207.25 227.10,206.95 227.60,206.65 228.10,206.34 228.60,206.02 229.10,205.70 229.60,205.37 230.10,205.03 230.60,204.70 231.10,204.36 231.60,204.01 232.10,203.64 232.60,203.27 233.10,202.90 233.60,202.52 234.10,202.14 234.60,201.77 235.10,201.39 235.60,201.03 236.10,200.67 236.60,200.33 237.10,199.99 237.60,199.65 238.10,199.31 238.60,198.95 239.10,198.58 239.60,198.19 240.10,197.78 240.60,197.32 241.10,196.81 241.60,196.26 242.10,195.69 242.60,195.09 243.10,194.50 243.60,193.92 244.10,193.37 244.60,192.82 245.10,192.28 245.60,191.74 246.10,191.19 246.60,190.64 247.10,190.08 247.60,189.52 248.10,188.94 248.60,188.38 249.10,187.82 249.60,187.24 250.10,186.65 250.60,186.03 251.10,185.37 251.60,184.65 252.10,183.86 252.60,183.00 253.10,182.08 253.60,181.13 254.10,180.18 254.60,179.23 255.10,178.26 255.60,177.26 256.10,176.25 256.60,175.22 257.10,174.18 257.60,173.09 258.10,171.97 258.60,170.86 259.10,169.80 259.60,168.82 260.10,167.91 260.60,167.04 261.10,166.20 261.60,165.35 262.10,164.47 262.60,163.53 263.10,162.54 263.60,161.52 264.10,160.46 264.60,159.40 265.10,158.34 265.60,157.29 266.10,156.28 266.60,155.30 267.10,154.38 267.60,153.54 268.10,152.73 268.60,151.96 269.10,151.23 269.60,150.52 270.10,149.84 270.60,149.20 271.10,148.58 271.60,147.96 272.10,147.35 272.60,146.76 273.10,146.19 273.60,145.68 274.10,145.22 274.60,144.83 275.10,144.51 275.60,144.21 276.10,143.91 276.60,143.62 277.10,143.36 277.60,143.13 278.10,142.95 278.60,142.81 279.10,142.72 279.60,142.70 280.10,142.77 280.60,142.94 281.10,143.19 281.60,143.51 282.10,143.89 282.60,144.32 283.10,144.79 283.60,145.28 284.10,145.79 284.60,146.30 285.10,146.82 285.60,147.45 286.10,148.17 286.60,148.97 287.10,149.81 287.60,150.69 288.10,151.58 288.60,152.53 289.10,153.55 289.60,154.61 290.10,155.70 290.60,156.80 291.10,157.92 291.60,159.08 292.10,160.25 292.60,161.41 293.10,162.52 293.60,163.58 294.10,164.61 294.60,165.63 295.10,166.66 295.60,167.71 296.10,168.79 296.60,169.87 297.10,170.97 297.60,172.10 298.10,173.28 298.60,174.53 299.10,175.83 299.60,177.11 300.10,178.34 300.60,179.53 301.10,180.70 301.60,181.85 302.10,182.96 302.60,184.04 303.10,185.09 303.60,186.10 304.10,187.11 304.60,188.10 305.10,189.11 305.60,190.15 306.10,191.22 306.60,192.24 307.10,193.19 307.60,194.00 308.10,194.72 308.60,195.41 309.10,196.07 309.60,196.70 310.10,197.30 310.60,197.88 311.10,198.44 311.60,198.97 312.10,199.49 312.60,199.99 313.10,200.47 313.60,200.93 314.10,201.38 314.60,201.82 315.10,202.25 315.60,202.67 316.10,203.07 316.60,203.46 317.10,203.85 317.60,204.22 318.10,204.58 318.60,204.93 319.10,205.27 319.60,205.60 320.10,205.93 320.60,206.25 321.10,206.56 321.60,206.87 322.10,207.18 322.60,207.48 323.10,207.78 323.60,208.08 324.10,208.37 324.60,208.66 325.10,208.96 325.60,209.26 326.10,209.55 326.60,209.85 327.10,210.14 327.60,210.43 328.10,210.71 328.60,210.97 329.10,211.23 329.60,211.46 330.10,211.68 330.60,211.88 331.10,212.07 331.60,212.25 332.10,212.43 332.60,212.59 333.10,212.75 333.60,212.90 334.10,213.04 334.60,213.17 335.10,213.28 335.60,213.38 336.10,213.47 336.60,213.56 337.10,213.64 337.60,213.73 338.10,213.81 338.60,213.90 339.10,213.98 339.60,214.06 340.10,214.13 340.60,214.21 341.10,214.28 341.60,214.35 342.10,214.42 342.60,214.48 343.10,214.54 343.60,214.59 344.10,214.65 344.60,214.69 345.10,214.74 345.60,214.77 346.10,214.81 346.60,214.84 347.10,214.86 347.60,214.88 348.10,214.89 348.60,214.90"/>
<polyline fill="none" stroke="#00CD00" stroke-width="1.75" stroke-linejoin="round" stroke-dasharray="5.832 5.832" stroke-dashoffset="0" points="68.60,215.20 69.10,215.20 69.60,215.20 70.10,215.20 70.60,215.20 71.10,215.20 71.60,215.20 72.10,215.20 72.60,215.20 73.10,215.20 73.60,215.20 74.10,215.20 74.60,215.20 75.10,215.20 75.60,215.20 76.10,215.20 76.60,215.20 77.10,215.20 77.60,215.20 78.10,215.20 78.60,215.20 79.10,215.20 79.60,215.20 80.10,215.20 80.60,215.20 81.10,215.20 81.60,215.20 82.10,215.20 82.60,215.20 83.10,215.20 83.60,215.20 84.10,215.20 84.60,215.20 85.10,215.20 85.60,215.20 86.10,215.20 86.60,215.20 87.10,215.20 87.60,215.20 88.10,215.20 88.60,215.20 89.10,215.20 89.60,215.20 90.10,215.20 90.60,215.20 91.10,215.20 91.60,215.20 92.10,215.20 92.60,215.20 93.10,215.20 93.60,215.20 94.10,215.20 94.60,215.20 95.10,215.20 95.60,215.20 96.10,215.20 96.60,215.20 97.10,215.20 97.60,215.20 98.10,215.20 98.60,215.20 99.10,215.20 99.60,215.20 100.10,215.20 100.60,215.20 101.10,215.20 101.60,215.20 102.10,215.20 102.60,215.20 103.10,215.20 103.60,215.20 104.10,215.20 104.60,215.20 105.10,215.20 105.60,215.20 106.10,215.20 106.60,215.20 107.10,215.20 107.60,215.20 108.10,215.20 108.60,215.20 109.10,215.20 109.60,215.20 110.10,215.20 110.60,215.20 111.10,215.20 111.60,215.20 112.10,215.20 112.60,215.20 113.10,215.20 113.60,215.20 114.10,215.20 114.60,215.20 115.10,215.20 115.60,215.20 116.10,215.20 116.60,215.20 117.10,215.20 117.60,215.20 118.10,215.20 118.60,215.20 119.10,215.20 119.60,215.20 120.10,215.20 120.60,215.20 121.10,215.20 121.60,215.20 122.10,215.20 122.60,215.20 123.10,215.20 123.60,215.20 124.10,215.20 124.60,215.20 125.10,215.20 125.60,215.20 126.10,215.20 126.60,215.20 127.10,215.20 127.60,215.20 128.10,215.20 128.60,215.20 129.10,215.20 129.60,215.20 130.10,215.20 130.60,215.20 131.10,215.20 131.60,215.20 132.10,215.20 132.60,215.20 133.10,215.20 133.60,215.20 134.10,215.20 134.60,215.20 135.10,215.20 135.60,215.20 136.10,215.20 136.60,215.20 137.10,215.20 137.60,215.20 138.10,215.20 138.60,215.20 139.10,215.20 139.60,215.20 140.10,215.20 140.60,215.20 141.10,215.20 141.60,215.20 142.10,215.20 142.60,215.20 143.10,215.20 143.60,215.20 144.10,215.20 144.60,215.20 145.10,215.20 145.60,215.20 146.10,215.20 146.60,215.20 147.10,215.20 147.60,215.20 148.10,215.20 148.60,215.20 149.10,215.20 149.60,215.20 150.10,215.20 150.60,215.20 151.10,215.20 151.60,215.20 152.10,215.20 152.60,215.20 153.10,215.20 153.60,215.20 154.10,215.20 154.60,215.20 155.10,215.20 155.60,215.20 156.10,215.20 156.60,215.20 157.10,215.20 157.60,215.20 158.10,215.20 158.60,215.20 159.10,215.20 159.60,215.20 160.10,215.20 160.60,215.20 161.10,215.20 161.60,215.20 162.10,215.20 162.60,215.20 163.10,215.20 163.60,215.20 164.10,215.20 164.60,215.20 165.10,215.20 165.60,215.20 166.10,215.20 166.60,215.20 167.10,215.20 167.60,215.20 168.10,215.20 168.60,215.20 169.10,215.20 169.60,215.20 170.10,215.20 170.60,215.20 171.10,215.20 171.60,215.20 172.10,215.20 172.60,215.20 173.10,215.20 173.60,215.20 174.10,215.20 174.60,215.20 175.10,215.20 175.60,215.20 176.10,215.20 176.60,215.20 177.10,215.20 177.60,215.20 178.10,215.20 178.60,215.20 179.10,215.20 179.60,215.20 180.10,215.20 180.60,215.20 181.10,215.20 181.60,215.20 182.10,215.20 182.60,215.20 183.10,215.20 183.60,215.20 184.10,215.20 184.60,215.20 185.10,215.20 185.60,215.20 186.10,215.20 186.60,215.20 187.10,215.20 187.60,215.20 188.10,215.20 188.60,215.20 189.10,215.20 189.60,215.20 190.10,215.20 190.60,215.20 191.10,215.20 191.60,215.20 192.10,215.20 192.60,215.20 193.10,215.20 193.60,215.20 194.10,215.20 194.60,215.20 195.10,215.20 195.60,215.20 196.10,215.20 196.60,215.20 197.10,215.20 197.60,215.20 198.10,215.20 198.60,215.20 199.10,215.20 199.60,215.20 200.10,215.20 200.60,215.20 201.10,215.20 201.60,215.20 202.10,215.20 202.60,215.20 203.10,215.20 203.60,215.20 204.10,215.20 204.60,215.18 205.10,215.13 205.60,215.07 206.10,214.99 206.60,214.89 207.10,214.79 207.60,214.68 208.10,214.58 208.60,214.46 209.10,214.32 209.60,214.17 210.10,214.00 210.60,213.81 211.10,213.62 211.60,213.41 212.10,213.19 212.60,212.97 213.10,212.74 213.60,212.51 214.10,212.28 214.60,212.05 215.10,211.80 215.60,211.51 216.10,211.19 216.60,210.86 217.10,210.55 217.60,210.27 218.10,210.04 218.60,209.87 219.10,209.73 219.60,209.61 220.10,209.52 220.60,209.50 221.10,209.56 221.60,209.69 222.10,209.86 222.60,210.14 223.10,210.62 223.60,211.15 224.10,211.57 224.60,211.92 225.10,212.25 225.60,212.53 226.10,212.74 226.60,212.90 227.10,213.04 227.60,213.16 228.10,213.27 228.60,213.37 229.10,213.48 229.60,213.60 230.10,213.73 230.60,213.88 231.10,214.03 231.60,214.19 232.10,214.35 232.60,214.50 233.10,214.62 233.60,214.75 234.10,214.89 234.60,215.01 235.10,215.12 235.60,215.18 236.10,215.20 236.60,215.19 237.10,215.17 237.60,215.13 238.10,215.09 238.60,215.03 239.10,214.90 239.60,214.52 240.10,214.01 240.60,213.46 241.10,212.77 241.60,211.96 242.10,211.09 242.60,210.18 243.10,209.26 243.60,208.27 244.10,207.23 244.60,206.15 245.10,205.03 245.60,203.89 246.10,202.73 246.60,201.57 247.10,200.41 247.60,199.27 248.10,198.08 248.60,196.82 249.10,195.54 249.60,194.26 250.10,193.03 250.60,191.87 251.10,190.83 251.60,189.93 252.10,189.13 252.60,188.40 253.10,187.71 253.60,187.07 254.10,186.46 254.60,185.88 255.10,185.31 255.60,184.74 256.10,184.17 256.60,183.59 257.10,182.98 257.60,182.34 258.10,181.66 258.60,180.96 259.10,180.26 259.60,179.55 260.10,178.83 260.60,178.10 261.10,177.36 261.60,176.60 262.10,175.83 262.60,175.03 263.10,174.21 263.60,173.37 264.10,172.50 264.60,171.56 265.10,170.53 265.60,169.44 266.10,168.31 266.60,167.17 267.10,166.06 267.60,165.00 268.10,164.03 268.60,163.16 269.10,162.43 269.60,161.83 270.10,161.29 270.60,160.73 271.10,160.09 271.60,159.30 272.10,158.23 272.60,156.87 273.10,155.31 273.60,153.65 274.10,151.98 274.60,150.40 275.10,148.86 275.60,147.28 276.10,145.69 276.60,144.14 277.10,142.68 277.60,141.34 278.10,140.07 278.60,138.81 279.10,137.60 279.60,136.42 280.10,135.29 280.60,134.22 281.10,133.22 281.60,132.30 282.10,131.46 282.60,130.70 283.10,130.00 283.60,129.35 284.10,128.74 284.60,128.17 285.10,127.63 285.60,127.10 286.10,126.55 286.60,125.95 287.10,125.41 287.60,125.06 288.10,125.04 288.60,125.47 289.10,126.25 289.60,127.26 290.10,128.36 290.60,129.44 291.10,130.73 291.60,132.23 292.10,133.87 292.60,135.59 293.10,137.32 293.60,139.00 294.10,140.66 294.60,142.35 295.10,144.08 295.60,145.82 296.10,147.55 296.60,149.27 297.10,150.94 297.60,152.57 298.10,154.17 298.60,155.74 299.10,157.29 299.60,158.83 300.10,160.37 300.60,161.91 301.10,163.45 301.60,165.01 302.10,166.62 302.60,168.25 303.10,169.90 303.60,171.52 304.10,173.09 304.60,174.60 305.10,176.00 305.60,177.31 306.10,178.55 306.60,179.74 307.10,180.89 307.60,182.01 308.10,183.12 308.60,184.22 309.10,185.33 309.60,186.47 310.10,187.65 310.60,188.87 311.10,190.13 311.60,191.39 312.10,192.63 312.60,193.83 313.10,194.96 313.60,196.02 314.10,196.96 314.60,197.79 315.10,198.59 315.60,199.37 316.10,200.13 316.60,200.85 317.10,201.56 317.60,202.23 318.10,202.87 318.60,203.48 319.10,204.06 319.60,204.60 320.10,205.11 320.60,205.59 321.10,206.03 321.60,206.43 322.10,206.79 322.60,207.15 323.10,207.49 323.60,207.82 324.10,208.14 324.60,208.45 325.10,208.75 325.60,209.03 326.10,209.31 326.60,209.57 327.10,209.83 327.60,210.07 328.10,210.31 328.60,210.53 329.10,210.75 329.60,210.96 330.10,211.16 330.60,211.35 331.10,211.53 331.60,211.70 332.10,211.87 332.60,212.03 333.10,212.19 333.60,212.34 334.10,212.49 334.60,212.64 335.10,212.78 335.60,212.92 336.10,213.06 336.60,213.19 337.10,213.32 337.60,213.44 338.10,213.56 338.60,213.68 339.10,213.78 339.60,213.89 340.10,213.99 340.60,214.08 341.10,214.17 341.60,214.25 342.10,214.33 342.60,214.39 343.10,214.46 343.60,214.51 344.10,214.56 344.60,214.61 345.10,214.66 345.60,214.71 346.10,214.75 346.60,214.79 347.10,214.82 347.60,214.85 348.10,214.87 348.60,214.89"/>
<polyline fill="none" stroke="#FF0000" stroke-width="1.75" stroke-linejoin="round" points="68.00,215.15 68.50,215.15 69.00,215.15 69.50,215.15 70.00,215.15 70.50,215.15 71.00,215.15 71.50,215.15 72.00,215.15 72.50,215.15 73.00,215.15 73.50,215.15 74.00,215.15 74.50,215.15 75.00,215.15 75.50,215.15 76.00,215.15 76.50,215.15 77.00,215.15 77.50,215.15 78.00,215.15 78.50,215.15 79.00,215.15 79.50,215.15 80.00,215.15 80.50,215.15 81.00,215.15 81.50,215.15 82.00,215.15 82.50,215.15 83.00,215.15 83.50,215.15 84.00,215.15 84.50,215.15 85.00,215.15 85.50,215.15 86.00,215.15 86.50,215.15 87.00,215.15 87.50,215.15 88.00,215.15 88.50,215.15 89.00,215.15 89.50,215.15 90.00,215.15 90.50,215.15 91.00,215.15 91.50,215.15 92.00,215.15 92.50,215.15 93.00,215.15 93.50,215.15 94.00,215.15 94.50,215.15 95.00,215.15 95.50,215.15 96.00,215.15 96.50,215.15 97.00,215.15 97.50,215.15 98.00,215.15 98.50,215.15 99.00,215.15 99.50,215.15 100.00,215.15 100.50,215.15 101.00,215.15 101.50,215.15 102.00,215.15 102.50,215.15 103.00,215.15 103.50,215.15 104.00,215.15 104.50,215.15 105.00,215.15 105.50,215.15 106.00,215.15 106.50,215.15 107.00,215.15 107.50,215.15 108.00,215.15 108.50,215.15 109.00,215.15 109.50,215.15 110.00,215.15 110.50,215.15 111.00,215.15 111.50,215.15 112.00,215.15 112.50,215.15 113.00,215.15 113.50,215.15 114.00,215.15 114.50,215.15 115.00,215.15 115.50,215.15 116.00,215.15 116.50,215.15 117.00,215.15 117.50,215.15 118.00,215.15 118.50,215.15 119.00,215.15 119.50,215.15 120.00,215.15 120.50,215.15 121.00,215.15 121.50,215.15 122.00,215.15 122.50,215.15 123.00,215.15 123.50,215.15 124.00,215.15 124.50,215.15 125.00,215.15 125.50,215.15 126.00,215.15 126.50,215.15 127.00,215.15 127.50,215.15 128.00,215.15 128.50,215.15 129.00,215.15 129.50,215.15 130.00,215.13 130.50,215.11 131.00,215.08 131.50,215.05 132.00,215.01 132.50,214.97 133.00,214.93 133.50,214.88 134.00,214.84 134.50,214.79 135.00,214.75 135.50,214.70 136.00,214.65 136.50,214.60 137.00,214.54 137.50,214.48 138.00,214.41 138.50,214.35 139.00,214.28 139.50,214.22 140.00,214.16 140.50,214.10 141.00,214.05 141.50,214.00 142.00,213.94 142.50,213.88 143.00,213.82 143.50,213.77 144.00,213.72 144.50,213.67 145.00,213.64 145.50,213.61 146.00,213.60 146.50,213.60 147.00,213.62 147.50,213.65 148.00,213.70 148.50,213.75 149.00,213.80 149.50,213.86 150.00,213.92 150.50,213.99 151.00,214.05 151.50,214.12 152.00,214.20 152.50,214.29 153.00,214.39 153.50,214.48 154.00,214.58 154.50,214.67 155.00,214.75 155.50,214.83 156.00,214.92 156.50,215.01 157.00,215.08 157.50,215.13 158.00,215.15 158.50,215.15 159.00,215.15 159.50,215.15 160.00,215.15 160.50,215.15 161.00,215.15 161.50,215.15 162.00,215.15 162.50,215.15 163.00,215.15 163.50,215.15 164.00,215.15 164.50,215.15 165.00,215.15 165.50,215.15 166.00,215.15 166.50,215.15 167.00,215.15 167.50,215.15 168.00,215.15 168.50,215.15 169.00,215.15 169.50,215.15 170.00,215.15 170.50,215.15 171.00,215.15 171.50,215.15 172.00,215.15 172.50,215.15 173.00,215.15 173.50,215.15 174.00,215.15 174.50,215.15 175.00,215.15 175.50,215.15 176.00,215.15 176.50,215.15 177.00,215.15 177.50,215.15 178.00,215.15 178.50,215.15 179.00,215.15 179.50,215.15 180.00,215.15 180.50,215.15 181.00,215.15 181.50,215.15 182.00,215.15 182.50,215.15 183.00,215.15 183.50,215.15 184.00,215.15 184.50,215.15 185.00,215.15 185.50,215.15 186.00,215.15 186.50,215.15 187.00,215.15 187.50,215.15 188.00,215.15 188.50,215.15 189.00,215.15 189.50,215.15 190.00,215.15 190.50,215.15 191.00,215.15 191.50,215.15 192.00,215.15 192.50,215.15 193.00,215.15 193.50,215.15 194.00,215.15 194.50,215.14 195.00,214.94 195.50,214.57 196.00,214.20 196.50,213.87 197.00,213.54 197.50,213.19 198.00,212.83 198.50,212.47 199.00,212.10 199.50,211.73 200.00,211.36 200.50,210.99 201.00,210.62 201.50,210.25 202.00,209.88 202.50,209.49 203.00,209.09 203.50,208.70 204.00,208.30 204.50,207.92 205.00,207.54 205.50,207.18 206.00,206.84 206.50,206.52 207.00,206.22 207.50,205.93 208.00,205.65 208.50,205.38 209.00,205.14 209.50,204.94 210.00,204.77 210.50,204.62 211.00,204.46 211.50,204.32 212.00,204.20 212.50,204.10 213.00,204.03 213.50,204.00 214.00,204.02 214.50,204.09 215.00,204.20 215.50,204.35 216.00,204.52 216.50,204.72 217.00,204.93 217.50,205.14 218.00,205.41 218.50,205.75 219.00,206.14 219.50,206.57 220.00,207.03 220.50,207.50 221.00,208.01 221.50,208.57 222.00,209.18 222.50,209.83 223.00,210.48 223.50,211.12 224.00,211.75 224.50,212.41 225.00,213.08 225.50,213.72 226.00,214.30 226.50,214.80 227.00,215.15 227.50,215.15 228.00,215.15 228.50,215.15 229.00,215.15 229.50,215.15 230.00,215.15 230.50,215.15 231.00,215.15 231.50,215.15 232.00,215.15 232.50,215.15 233.00,215.15 233.50,215.15 234.00,215.15 234.50,215.15 235.00,215.15 235.50,215.15 236.00,215.15 236.50,215.15 237.00,215.15 237.50,215.15 238.00,215.15 238.50,215.15 239.00,215.15 239.50,215.15 240.00,215.15 240.50,215.15 241.00,215.15 241.50,215.15 242.00,215.15 242.50,215.15 243.00,215.15 243.50,215.15 244.00,215.15 244.50,215.15 245.00,215.15 245.50,215.15 246.00,215.15 246.50,215.15 247.00,215.15 247.50,215.15 248.00,215.15 248.50,215.15 249.00,215.15 249.50,215.15 250.00,214.88 250.50,213.90 251.00,212.38 251.50,210.50 252.00,208.45 252.50,206.43 253.00,204.62 253.50,203.07 254.00,201.56 254.50,200.07 255.00,198.57 255.50,197.06 256.00,195.50 256.50,193.89 257.00,192.20 257.50,190.41 258.00,188.47 258.50,186.44 259.00,184.37 259.50,182.31 260.00,180.31 260.50,178.35 261.00,176.41 261.50,174.48 262.00,172.54 262.50,170.57 263.00,168.57 263.50,166.52 264.00,164.39 264.50,162.17 265.00,159.93 265.50,157.70 266.00,155.52 266.50,153.35 267.00,151.20 267.50,149.04 268.00,146.86 268.50,144.65 269.00,142.38 269.50,139.97 270.00,137.48 270.50,134.99 271.00,132.59 271.50,130.38 272.00,128.43 272.50,126.66 273.00,125.00 273.50,123.43 274.00,121.97 274.50,120.60 275.00,119.34 275.50,118.13 276.00,116.92 276.50,115.82 277.00,114.91 277.50,114.30 278.00,113.88 278.50,113.49 279.00,113.15 279.50,112.87 280.00,112.66 280.50,112.53 281.00,112.50 281.50,112.59 282.00,112.79 282.50,113.08 283.00,113.45 283.50,113.89 284.00,114.37 284.50,114.88 285.00,115.43 285.50,116.19 286.00,117.16 286.50,118.28 287.00,119.51 287.50,120.80 288.00,122.09 288.50,123.37 289.00,124.71 289.50,126.13 290.00,127.63 290.50,129.20 291.00,130.86 291.50,132.65 292.00,134.63 292.50,136.71 293.00,138.79 293.50,140.79 294.00,142.75 294.50,144.71 295.00,146.66 295.50,148.61 296.00,150.58 296.50,152.57 297.00,154.56 297.50,156.50 298.00,158.37 298.50,160.16 299.00,161.89 299.50,163.59 300.00,165.28 300.50,166.97 301.00,168.69 301.50,170.41 302.00,172.12 302.50,173.83 303.00,175.54 303.50,177.30 304.00,179.09 304.50,180.88 305.00,182.60 305.50,184.23 306.00,185.70 306.50,187.04 307.00,188.32 307.50,189.53 308.00,190.68 308.50,191.79 309.00,192.86 309.50,193.89 310.00,194.90 310.50,195.88 311.00,196.83 311.50,197.76 312.00,198.65 312.50,199.53 313.00,200.37 313.50,201.20 314.00,202.01 314.50,202.80 315.00,203.59 315.50,204.38 316.00,205.17 316.50,205.93 317.00,206.66 317.50,207.34 318.00,207.96 318.50,208.50 319.00,208.98 319.50,209.44 320.00,209.89 320.50,210.31 321.00,210.70 321.50,211.07 322.00,211.42 322.50,211.72 323.00,212.00 323.50,212.24 324.00,212.44 324.50,212.62 325.00,212.79 325.50,212.95 326.00,213.10 326.50,213.24 327.00,213.37 327.50,213.49 328.00,213.60 328.50,213.70 329.00,213.79 329.50,213.87 330.00,213.95 330.50,214.01 331.00,214.07 331.50,214.13 332.00,214.18 332.50,214.24 333.00,214.28 333.50,214.33 334.00,214.37 334.50,214.41 335.00,214.45 335.50,214.49 336.00,214.52 336.50,214.54 337.00,214.57 337.50,214.59 338.00,214.60 338.50,214.62 339.00,214.63 339.50,214.65 340.00,214.66 340.50,214.67 341.00,214.68 341.50,214.70 342.00,214.71 342.50,214.72 343.00,214.73 343.50,214.74 344.00,214.75 344.50,214.76 345.00,214.76 345.50,214.77 346.00,214.78 346.50,214.78 347.00,214.79 347.50,214.79 348.00,214.80 348.50,214.80 349.00,214.80 349.50,214.80"/>
<line x1="68.00" x2="130.50" y1="215.12" y2="215.12" stroke="#FF0000" stroke-width="2.35"/>
<line x1="157.00" x2="194.20" y1="215.12" y2="215.12" stroke="#FF0000" stroke-width="2.35"/>
<line x1="227.30" x2="249.40" y1="215.12" y2="215.12" stroke="#FF0000" stroke-width="2.35"/>
<g stroke="#000" stroke-width="0.75" fill="none">
<rect x="57.45" y="27.55" width="302.65000000000003" height="194.85"/>
<line x1="68.55" y1="222.4" x2="348.90" y2="222.4"/>
<line x1="68.55" y1="222.4" x2="68.55" y2="229.4"/>
<line x1="108.60" y1="222.4" x2="108.60" y2="229.4"/>
<line x1="148.65" y1="222.4" x2="148.65" y2="229.4"/>
<line x1="188.70" y1="222.4" x2="188.70" y2="229.4"/>
<line x1="228.75" y1="222.4" x2="228.75" y2="229.4"/>
<line x1="268.80" y1="222.4" x2="268.80" y2="229.4"/>
<line x1="308.85" y1="222.4" x2="308.85" y2="229.4"/>
<line x1="348.90" y1="222.4" x2="348.90" y2="229.4"/>
<line x1="57.45" y1="215.45" x2="50.45" y2="215.45"/>
<line x1="57.45" y1="167.95" x2="50.45" y2="167.95"/>
<line x1="57.45" y1="120.45" x2="50.45" y2="120.45"/>
<line x1="57.45" y1="72.95" x2="50.45" y2="72.95"/>
<rect x="68.5" y="35.0" width="96.2" height="70.0" fill="#fff"/>
</g>
<g fill="none" stroke-width="1.75">
<line x1="78.4" x2="100.1" y1="48.95" y2="48.95" stroke="#00FFFF" stroke-dasharray="1.458 4.374 5.832 4.374"/>
<line x1="78.4" x2="100.1" y1="62.95" y2="62.95" stroke="#0000FF" stroke-dasharray="1.458 4.374"/>
<line x1="78.4" x2="100.1" y1="77.0" y2="77.0" stroke="#00CD00" stroke-dasharray="5.832 5.832"/>
<line x1="78.4" x2="100.6" y1="91.05" y2="91.05" stroke="#FF0000"/>
</g>
<text x="110.9" y="53.40" font-size="11.66">method 1</text>
<text x="110.9" y="67.40" font-size="11.66">method 2</text>
<text x="110.9" y="81.45" font-size="11.66">method 3</text>
<text x="110.9" y="95.50" font-size="11.66">method 4</text>
<text x="68.55" y="248.6" font-size="14" text-anchor="middle">−4</text>
<text x="108.60" y="248.6" font-size="14" text-anchor="middle">−3</text>
<text x="148.65" y="248.6" font-size="14" text-anchor="middle">−2</text>
<text x="188.70" y="248.6" font-size="14" text-anchor="middle">−1</text>
<text x="228.75" y="248.6" font-size="14" text-anchor="middle">0</text>
<text x="268.80" y="248.6" font-size="14" text-anchor="middle">1</text>
<text x="308.85" y="248.6" font-size="14" text-anchor="middle">2</text>
<text x="348.90" y="248.6" font-size="14" text-anchor="middle">3</text>
<text transform="translate(41.0,215.05) rotate(-90)" font-size="14" text-anchor="middle">0.0</text>
<text transform="translate(41.0,167.55) rotate(-90)" font-size="14" text-anchor="middle">0.5</text>
<text transform="translate(41.0,120.05) rotate(-90)" font-size="14" text-anchor="middle">1.0</text>
<text transform="translate(41.0,72.55) rotate(-90)" font-size="14" text-anchor="middle">1.5</text>
<text x="208.68" y="19.2" font-size="14.25" font-weight="bold" text-anchor="middle">Conditional density at x=1.5</text>
<text x="208.78" y="275.9" font-size="16" text-anchor="middle">y</text>
<text transform="translate(12.7,124.28) rotate(-90)" font-size="16" text-anchor="middle">density</text>
</svg>
</body></html>
